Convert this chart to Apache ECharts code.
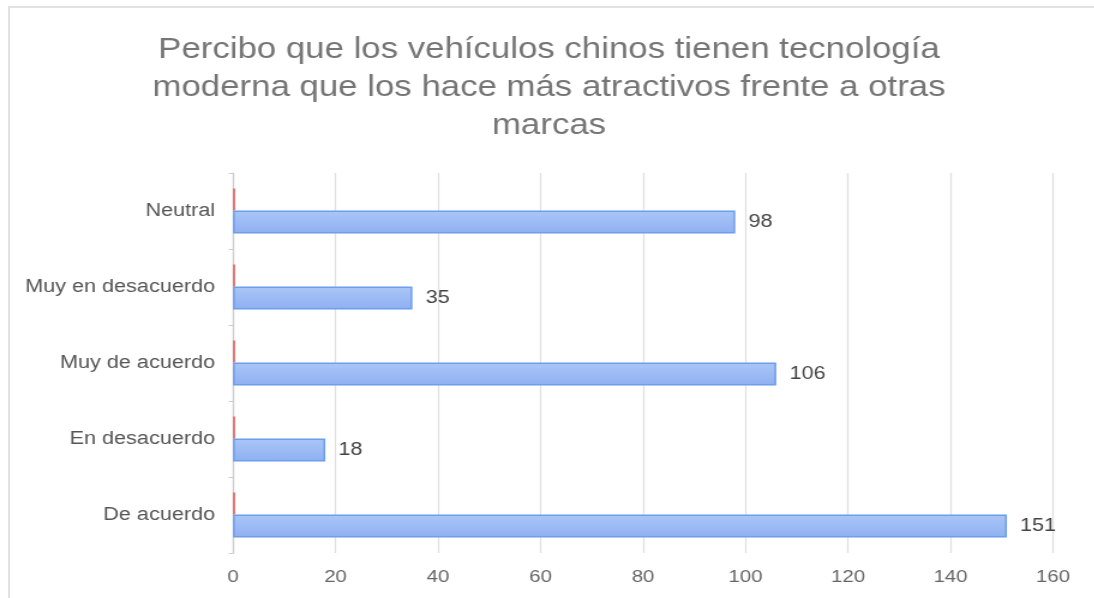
<!DOCTYPE html>
<html>
<head>
<meta charset="utf-8">
<script src="https://cdn.jsdelivr.net/npm/echarts@6/dist/echarts.min.js"></script>
<style>
html,body{margin:0;padding:0;background:#fff;overflow:hidden;}
#wrap{position:relative;width:1094px;height:598px;overflow:hidden;background:#fff;}
#frame{position:absolute;left:8px;top:6px;width:1200px;height:700px;border-left:2px solid #e2e2e2;border-top:2px solid #e2e2e2;pointer-events:none;}
#chart{position:absolute;left:0;top:0;width:905px;height:598px;transform:scaleX(1.2);transform-origin:0 0;}
</style>
</head>
<body>
<div id="wrap"><div id="frame"></div><div id="chart"></div></div>
<script>
const titleText = "Percibo que los vehículos chinos tienen tecnología\nmoderna que los hace más atractivos frente a otras\nmarcas";
const categories = ["Neutral", "Muy en desacuerdo", "Muy de acuerdo", "En desacuerdo", "De acuerdo"];
const blueValues = [98, 35, 106, 18, 151];
const redValues = [0.4, 0.4, 0.4, 0.4, 0.4];
const xTicks = [0, 20, 40, 60, 80, 100, 120, 140, 160];

const SX = 1.2;
const W = 905;
const FONT = "'Liberation Sans', Arial, sans-serif";
const chart = echarts.init(document.getElementById('chart'), null, {renderer: 'canvas'});
chart.setOption({
  backgroundColor: 'transparent',
  animation: false,
  title: {
    text: titleText,
    left: 543 / SX,
    textAlign: 'center',
    top: 26,
    textStyle: {fontFamily: FONT, fontSize: 29, fontWeight: 'normal', color: '#757575', lineHeight: 38}
  },
  grid: {left: 233 / SX, right: W - 1053 / SX, top: 173, bottom: 45, containLabel: false, outerBoundsMode: 'none'},
  xAxis: {
    type: 'value',
    min: xTicks[0],
    max: xTicks[xTicks.length - 1],
    interval: 20,
    axisLine: {show: false},
    axisTick: {show: false},
    axisLabel: {fontFamily: FONT, fontSize: 17, color: '#666', margin: 16},
    splitLine: {show: true, lineStyle: {color: '#e0e0e0', width: 1.25}}
  },
  yAxis: {
    type: 'category',
    data: categories,
    inverse: true,
    axisLine: {show: true, lineStyle: {color: '#cccccc', width: 1.25}},
    axisTick: {show: true, length: 3.5, lineStyle: {color: '#cccccc'}},
    axisLabel: {fontFamily: FONT, fontSize: 18, color: '#555', margin: 15}
  },
  series: [
    {
      type: 'bar',
      name: 'Otro',
      data: redValues,
      barWidth: 22,
      barGap: '0%',
      itemStyle: {color: '#e06666'},
      label: {show: false}
    },
    {
      type: 'bar',
      name: 'Respuestas',
      data: blueValues,
      barWidth: 23,
      barGap: '0%',
      itemStyle: {
        color: new echarts.graphic.LinearGradient(0, 0, 0, 1, [
          {offset: 0, color: '#abc6f7'},
          {offset: 1, color: '#8fb0f2'}
        ]),
        borderColor: '#6d9eeb',
        borderWidth: 1.5
      },
      label: {
        show: true,
        position: 'right',
        distance: 11,
        fontFamily: FONT,
        fontSize: 18,
        color: '#444'
      }
    }
  ]
});
</script>
</body>
</html>
